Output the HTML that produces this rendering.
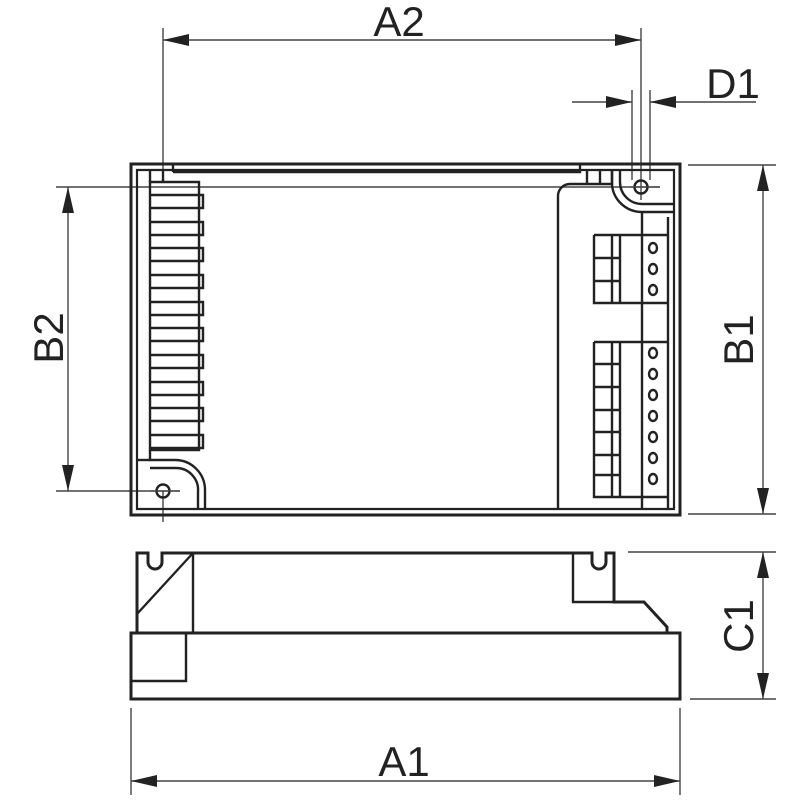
<!DOCTYPE html>
<html><head><style>html,body{margin:0;padding:0;background:#fff}svg{display:block}</style></head>
<body>
<svg width="800" height="800" viewBox="0 0 800 800" xmlns="http://www.w3.org/2000/svg" font-family="Liberation Sans, sans-serif">
<defs>
<marker id="aw" viewBox="0 0 26 12" refX="26" refY="6" markerWidth="26" markerHeight="12" orient="auto-start-reverse" markerUnits="userSpaceOnUse">
<path d="M0,0 L26,6 L0,12 z" fill="#222"/>
</marker>
</defs>
<g stroke="#444" stroke-width="1.4" fill="none">
<line x1="163" y1="28" x2="163" y2="182"/>
<line x1="641" y1="28" x2="641" y2="200"/>
<line x1="163" y1="40" x2="641" y2="40" marker-start="url(#aw)" marker-end="url(#aw)"/>
<line x1="632" y1="90" x2="632" y2="180"/>
<line x1="650" y1="90" x2="650" y2="180"/>
<line x1="572" y1="102" x2="632" y2="102" marker-end="url(#aw)"/>
<line x1="756" y1="102" x2="650" y2="102" marker-end="url(#aw)"/>
<line x1="688" y1="165" x2="776" y2="165"/>
<line x1="688" y1="514" x2="776" y2="514"/>
<line x1="763" y1="165" x2="763" y2="514" marker-start="url(#aw)" marker-end="url(#aw)"/>
<line x1="56" y1="187" x2="660" y2="187"/>
<line x1="56" y1="491" x2="180" y2="491"/>
<line x1="68" y1="187" x2="68" y2="491" marker-start="url(#aw)" marker-end="url(#aw)"/>
<line x1="163" y1="491" x2="163" y2="522"/>
<line x1="628" y1="552" x2="776" y2="552"/>
<line x1="690" y1="699" x2="776" y2="699"/>
<line x1="763" y1="552" x2="763" y2="699" marker-start="url(#aw)" marker-end="url(#aw)"/>
<line x1="131" y1="708" x2="131" y2="795"/>
<line x1="680" y1="708" x2="680" y2="795"/>
<line x1="131" y1="781" x2="680" y2="781" marker-start="url(#aw)" marker-end="url(#aw)"/>
</g>
<g fill="#222" font-size="42">
<text x="399" y="36" text-anchor="middle">A2</text>
<text x="733" y="98" text-anchor="middle">D1</text>
<text x="404" y="776" text-anchor="middle">A1</text>
<text transform="translate(63,338) rotate(-90)" text-anchor="middle">B2</text>
<text transform="translate(753,340) rotate(-90)" text-anchor="middle">B1</text>
<text transform="translate(753,626) rotate(-90)" text-anchor="middle">C1</text>
</g>
<g stroke="#222" fill="none" stroke-width="3">
<rect x="131" y="164" width="549" height="351"/>
<path d="M137,170 V509 H674 V170 Z" stroke-width="2.2"/>
<g stroke-width="2.4">
<path d="M150,182 H199 V450 H150 Z"/>
<path d="M150,195 H203 V208 H150"/>
<path d="M150,222 H203 V235 H150"/>
<path d="M150,248 H203 V261 H150"/>
<path d="M150,275 H203 V288 H150"/>
<path d="M150,302 H203 V315 H150"/>
<path d="M150,328 H203 V341 H150"/>
<path d="M150,355 H203 V368 H150"/>
<path d="M150,382 H203 V395 H150"/>
<path d="M150,408 H203 V421 H150"/>
<path d="M150,435 H203 V448 H150"/>
<line x1="150" y1="170" x2="150" y2="182"/>
<line x1="163" y1="170" x2="163" y2="182"/>
<line x1="173" y1="164" x2="173" y2="172"/>
<path d="M173,172 H580 V164"/>
<path d="M150,450 V460 H175 A30 30 0 0 1 205 490 V509"/>
<path d="M137,460 H150"/>
<path d="M198,509 V492 A22 22 0 0 0 176 468 H150"/>
<circle cx="163" cy="491" r="6.5"/>
</g>
<g stroke-width="2.4">
<path d="M558,509 V196 A12 12 0 0 1 570,184 H612 V170"/>
<line x1="587" y1="170" x2="587" y2="184"/>
<line x1="600" y1="170" x2="600" y2="184"/>
<path d="M612,170 V185 A30 30 0 0 0 642,212 H674"/>
<path d="M620,170 V182 A22 22 0 0 0 642,204 H674"/>
<path d="M642,212 V509"/>
<path d="M668,217 V509"/>
<line x1="594" y1="235" x2="668" y2="235"/>
<path d="M594,235 V303 H668"/>
<line x1="612" y1="235" x2="612" y2="303"/>
<line x1="620" y1="235" x2="620" y2="303"/>
<line x1="594" y1="258" x2="620" y2="258"/>
<line x1="594" y1="281" x2="620" y2="281"/>
<line x1="594" y1="342" x2="668" y2="342"/>
<path d="M594,342 V497 H668"/>
<line x1="612" y1="342" x2="612" y2="497"/>
<line x1="620" y1="342" x2="620" y2="497"/>
<line x1="594" y1="364" x2="620" y2="364"/>
<line x1="594" y1="387" x2="620" y2="387"/>
<line x1="594" y1="410" x2="620" y2="410"/>
<line x1="594" y1="432" x2="620" y2="432"/>
<line x1="594" y1="455" x2="620" y2="455"/>
<line x1="594" y1="475" x2="620" y2="475"/>
<ellipse cx="653" cy="248" rx="4" ry="5"/>
<ellipse cx="653" cy="269" rx="4" ry="5"/>
<ellipse cx="653" cy="290" rx="4" ry="5"/>
<ellipse cx="653" cy="353" rx="4" ry="5"/>
<ellipse cx="653" cy="374" rx="4" ry="5"/>
<ellipse cx="653" cy="395" rx="4" ry="5"/>
<ellipse cx="653" cy="416" rx="4" ry="5"/>
<ellipse cx="653" cy="437" rx="4" ry="5"/>
<ellipse cx="653" cy="458" rx="4" ry="5"/>
<ellipse cx="653" cy="479" rx="4" ry="5"/>
<circle cx="641" cy="187" r="6.5"/>
</g>
</g>
<g stroke="#444" stroke-width="1.2" fill="none">
<line x1="630" y1="187" x2="660" y2="187"/>
<line x1="150" y1="491" x2="180" y2="491"/>
</g>
<g stroke="#222" fill="none" stroke-width="3">
<path d="M137,633 V553 H148 V562 A7 7 0 0 0 162 562 V553 H592 V562 A7 7 0 0 0 606 562 V553 H614 V602 H644 L667,627 V633"/>
<rect x="131" y="633" width="549" height="66"/>
<path d="M573,553 V602 H614" stroke-width="2.4"/>
<line x1="193" y1="553" x2="193" y2="633" stroke-width="2.4"/>
<line x1="193" y1="553" x2="137" y2="614" stroke-width="2.4"/>
<path d="M131,681 H186 V633" stroke-width="2.4"/>
</g>
</svg>
</body></html>
